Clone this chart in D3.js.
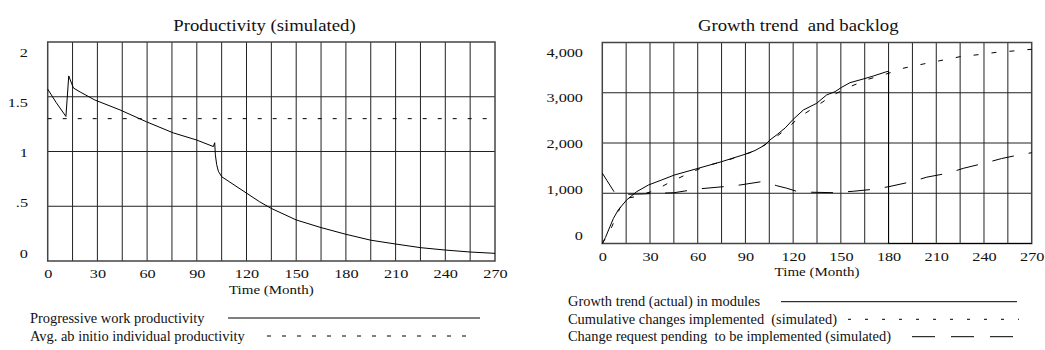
<!DOCTYPE html>
<html>
<head>
<meta charset="utf-8">
<script src="https://cdn.jsdelivr.net/npm/d3@7"></script>
<style>
  body { margin: 0; background: #fff; }
  svg text { font-family: "Liberation Serif", "Times New Roman", serif; fill: #111; white-space: pre; }
</style>
</head>
<body>
<svg id="chart" width="1045" height="350"></svg>
<script>
// ---- data ----
const prodTime = [0, 5, 11, 12.7, 15.5, 20, 28.5, 43.6, 59.8, 75.8, 89.9, 100, 100.8, 101.2, 102, 103, 105, 110, 120, 128, 135, 150, 165, 180, 195, 210, 225, 240, 255, 270];
const prodVals = [1.57, 1.45, 1.32, 1.69, 1.58, 1.54, 1.47, 1.38, 1.27, 1.17, 1.105, 1.045, 1.08, 0.97, 0.88, 0.82, 0.77, 0.72, 0.62, 0.54, 0.48, 0.375, 0.305, 0.244, 0.19, 0.155, 0.122, 0.1, 0.082, 0.07];
const avgTime = [0, 270];
const avgVals = [1.3, 1.3];

const growthTime = [0, 2, 4.8, 7, 10, 15.3, 21.6, 29, 37, 45.3, 60.4, 75, 89.7, 96, 102.3, 105.4, 110, 115, 120, 126.4, 134.8, 141, 146.3, 150.5, 155.7, 164, 170.4, 178.8, 180, 180, 270];
const growthVals = [0, 120, 334, 500, 667, 866, 1031, 1164, 1260, 1363, 1497, 1628, 1775, 1850, 1960, 2060, 2170, 2300, 2470, 2657, 2790, 2955, 3021, 3108, 3200, 3273, 3333, 3420, 3425, 0, 0];

const cumulTime = [0, 3, 6, 11, 15.3, 20.6, 26, 32, 42.6, 54, 65, 80, 95, 105, 115, 125, 135, 145, 155.7, 167, 180, 189, 201.8, 212.3, 225, 236.4, 248, 260.6, 270];
const cumulVals = [0, 150, 334, 700, 900, 930, 990, 1040, 1220, 1390, 1540, 1670, 1830, 2020, 2260, 2540, 2740, 2955, 3120, 3267, 3387, 3486, 3572, 3638, 3718, 3758, 3805, 3837, 3865];

const pendTime = [0, 3, 8, 15, 25, 35, 45, 52, 60, 76, 86.6, 100, 105, 109.7, 116, 123, 131.7, 146, 158, 170, 180, 194.5, 204, 217.5, 227, 240, 251, 260, 270];
const pendVals = [1400, 1250, 1000, 980, 985, 1000, 1010, 1045, 1085, 1130, 1164, 1230, 1200, 1150, 1100, 1031, 1020, 1011, 1040, 1078, 1130, 1230, 1320, 1400, 1496, 1596, 1690, 1750, 1807];

const xTicks = [0, 30, 60, 90, 120, 150, 180, 210, 240, 270];
const prodTicks = [0, 0.5, 1, 1.5, 2];
const growthTicks = [0, 1000, 2000, 3000, 4000];

const svg = d3.select("#chart");

function txt(g, x, y, s, size, sx, anchor) {
  g.append("text")
    .attr("transform", `translate(${x},${y}) scale(${sx},1)`)
    .attr("text-anchor", anchor || "middle")
    .style("font-size", size + "px")
    .text(s);
}

function panel(opt) {
  const g = svg.append("g");
  const x = d3.scaleLinear().domain([0, 270]).range(opt.xr);
  const y = d3.scaleLinear().domain(opt.yd).range(opt.yr);

  // grid
  g.selectAll(".vg").data(d3.range(15, 270, 15)).join("line")
    .attr("x1", d => x(d)).attr("x2", d => x(d))
    .attr("y1", opt.yr[0]).attr("y2", opt.yr[1])
    .attr("stroke", "#222").attr("stroke-width", 1);
  g.selectAll(".hg").data(opt.ticks.slice(1, -1)).join("line")
    .attr("x1", opt.xr[0]).attr("x2", opt.xr[1])
    .attr("y1", d => y(d)).attr("y2", d => y(d))
    .attr("stroke", "#222").attr("stroke-width", 1);
  g.append("rect")
    .attr("x", opt.xr[0]).attr("y", opt.yr[1])
    .attr("width", opt.xr[1] - opt.xr[0]).attr("height", opt.yr[0] - opt.yr[1])
    .attr("fill", "none").attr("stroke", "#444").attr("stroke-width", 1.5);

  // series
  opt.series.forEach(s => {
    const line = d3.line().x((d, i) => x(s.t[i])).y(d => y(d));
    g.append("path").datum(s.v)
      .attr("d", line)
      .attr("fill", "none").attr("stroke", "#000").attr("stroke-width", 1)
      .attr("stroke-dasharray", s.dash || null);
  });

  // x axis labels
  const xa = g.append("g")
    .attr("transform", `translate(0,${opt.yr[0]})`)
    .call(d3.axisBottom(x).tickValues(xTicks).tickSize(0).tickPadding(opt.xpad));
  xa.select(".domain").remove();
  xa.selectAll("text").style("font-size", "13px").attr("fill", "#111")
    .style("font-family", "Liberation Serif").attr("transform", "scale(1.25,1)");

  // y axis labels, spread the way the original tool spreads them
  const yl = d3.scaleLinear().domain(opt.yd).range(opt.labelRange);
  const ya = g.append("g")
    .attr("transform", `translate(${opt.labelX},0)`)
    .call(d3.axisLeft(yl).tickValues(opt.ticks).tickSize(0).tickPadding(0).tickFormat(opt.fmt));
  ya.select(".domain").remove();
  ya.selectAll("text").style("font-size", "13px").attr("fill", "#111")
    .style("font-family", "Liberation Serif").attr("transform", "scale(1.25,1)");

  txt(g, opt.titleX, 30.5, opt.title, 16, 1.17);
  txt(g, (opt.xr[0] + opt.xr[1]) / 2, opt.xtitleY, "Time (Month)", 12.5, 1.2);

  // legend
  opt.legend.forEach((l, i) => {
    const ly = opt.legendY[i];
    txt(g, opt.legendX, ly + 4.5, l.label, 14, 1.03, "start");
    g.append("line")
      .attr("x1", l.x1).attr("x2", l.x2).attr("y1", ly).attr("y2", ly)
      .attr("stroke", "#000").attr("stroke-width", 1)
      .attr("stroke-dasharray", l.dash || null);
  });
}

panel({
  xr: [47.7, 495], yd: [0, 2], yr: [261, 42],
  ticks: prodTicks, labelRange: [253, 52], labelX: 28,
  fmt: d => String(d).replace(/^0\./, "."),
  xpad: 7.3,
  title: "Productivity (simulated)", titleX: 264.5, xtitleY: 294,
  series: [
    { t: prodTime, v: prodVals },
    { t: avgTime, v: avgVals, dash: "4,11" }
  ],
  legendX: 30, legendY: [318, 336],
  legend: [
    { label: "Progressive work productivity", x1: 228, x2: 480 },
    { label: "Avg. ab initio individual productivity", x1: 267, x2: 466, dash: "4,11" }
  ]
});

panel({
  xr: [602.3, 1031.7], yd: [0, 4000], yr: [243.5, 42.5],
  ticks: growthTicks, labelRange: [235, 52], labelX: 583,
  fmt: d3.format(","),
  xpad: 7.8,
  title: "Growth trend  and backlog", titleX: 798.3, xtitleY: 276,
  series: [
    { t: growthTime, v: growthVals },
    { t: cumulTime, v: cumulVals, dash: "5,13" },
    { t: pendTime, v: pendVals, dash: "22,15" }
  ],
  legendX: 568, legendY: [301.7, 319.3, 336.7],
  legend: [
    { label: "Growth trend (actual) in modules", x1: 781, x2: 1017 },
    { label: "Cumulative changes implemented  (simulated)", x1: 848, x2: 1019, dash: "3,14" },
    { label: "Change request pending  to be implemented (simulated)", x1: 912, x2: 1014, dash: "23,16" }
  ]
});
</script>
</body>
</html>
